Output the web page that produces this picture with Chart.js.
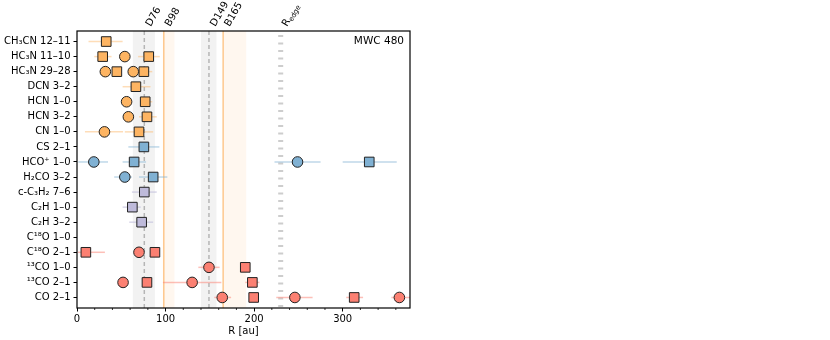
<!DOCTYPE html>
<html lang="en">
<head>
  <meta charset="UTF-8" />
  <title>MWC 480 emission radii</title>
  <script src="https://cdn.jsdelivr.net/npm/chart.js"></script>
  <style>
    * { margin: 0; padding: 0; box-sizing: border-box; }
    body { background: #fff; width: 830px; height: 340px; overflow: hidden; }
    #wrap { position: relative; width: 830px; height: 340px; }
  </style>
</head>
<body>
  <div id="wrap"><canvas id="chart"></canvas></div>

  <script>
    // Lines, top to bottom
    const rowLabels = ['CH₃CN 12–11', 'HC₃N 11–10', 'HC₃N 29–28', 'DCN 3–2', 'HCN 1–0', 'HCN 3–2',
      'CN 1–0', 'CS 2–1', 'HCO⁺ 1–0', 'H₂CO 3–2', 'c-C₃H₂ 7–6', 'C₂H 1–0', 'C₂H 3–2',
      'C¹⁸O 1–0', 'C¹⁸O 2–1', '¹³CO 1–0', '¹³CO 2–1', 'CO 2–1'];
    // 0 = N-bearing, 1 = S/O-bearing, 2 = hydrocarbons, 3 = CO isotopologues
    const rowGroup = [0, 0, 0, 0, 0, 0, 0, 1, 1, 1, 2, 2, 2, 3, 3, 3, 3, 3];

    // circles (au), with error bar ends
    const circRow = [1, 2, 2, 4, 5, 6, 8, 8, 9, 14, 15, 16, 16, 17, 17, 17];
    const circR   = [54, 32, 63.5, 56, 58, 31, 19, 249, 54, 70, 149, 52, 130, 164, 246, 364];
    const circLo  = [null, null, null, null, null, 9, 1.5, 223, 42, null, 137, null, 97, 155, 225, 355];
    const circHi  = [null, null, null, null, null, 52, 35, 275, 62, null, 161, null, 163, 174, 266, 400];

    // squares (au), with error bar ends
    const sqRow = [0, 1, 1, 2, 2, 3, 4, 5, 6, 7, 8, 8, 9, 10, 11, 12, 14, 14, 15, 16, 16, 17, 17];
    const sqR   = [33, 29, 81, 45, 75.5, 66.5, 77, 79, 70, 75.5, 64.5, 330, 86, 76, 62.5, 73, 10, 88, 190, 79, 198, 199.5, 313];
    const sqLo  = [13, 19.5, 69, null, 66, 51.5, 71, 70, 54, 58, 51.5, 300, 70, 62, 51.5, 59, 1, null, null, null, 190, null, 304];
    const sqHi  = [51.5, 39, 93.5, null, 85, 83, 85, 90, 86, 93, 78, 361, 102, 90, 72, 86, 31.5, null, null, null, 206, null, 323];

    // dust gaps (D) and rings (B)
    const gapR  = [76, 149];
    const gapLo = [63, 140];
    const gapHi = [88, 157.5];
    const ringR  = [98, 165];
    const ringLo = [97, 165];
    const ringHi = [110, 191];
    const rEdge = 230;

    const xMajor = [0, 100, 200, 300];
    const xMinorStep = 20;
    const xMax = 376;

    const groupFill = ['#fdb462', '#80b1d3', '#bebada', '#fb8072'];
    const groupErr = ['rgba(253,180,98,0.45)', 'rgba(128,177,211,0.5)', 'rgba(190,186,218,0.6)', 'rgba(251,128,114,0.5)'];

    Chart.defaults.font.family = "'DejaVu Sans', sans-serif";
    Chart.defaults.color = '#000';

    const datasets = [];
    groupFill.forEach((col, g) => {
      datasets.push({
        data: circRow.map((row, i) => ({ x: circR[i], y: row })).filter(p => rowGroup[p.y] === g),
        pointStyle: 'circle',
        pointRadius: 5.3,
        pointBackgroundColor: col,
        pointBorderColor: '#222',
        pointBorderWidth: 1
      });
      datasets.push({
        data: sqRow.map((row, i) => ({ x: sqR[i], y: row })).filter(p => rowGroup[p.y] === g),
        pointStyle: 'rect',
        pointRadius: 6.8,
        pointBackgroundColor: col,
        pointBorderColor: '#222',
        pointBorderWidth: 1
      });
    });

    function drawErr(ctx, x, y, rows, lo, hi) {
      rows.forEach((row, i) => {
        if (lo[i] == null) return;
        const py = y.getPixelForValue(row);
        ctx.strokeStyle = groupErr[rowGroup[row]];
        ctx.beginPath();
        ctx.moveTo(x.getPixelForValue(lo[i]), py);
        ctx.lineTo(x.getPixelForValue(hi[i]), py);
        ctx.stroke();
      });
    }

    const decor = {
      id: 'decor',
      beforeDatasetsDraw(chart) {
        const { ctx, chartArea: a, scales: { x, y } } = chart;
        ctx.save();
        ctx.beginPath();
        ctx.rect(a.left, a.top, a.right - a.left, a.bottom - a.top);
        ctx.clip();

        // bands
        ctx.fillStyle = 'rgba(0,0,0,0.05)';
        gapLo.forEach((lo, i) => {
          const x0 = x.getPixelForValue(lo), x1 = x.getPixelForValue(gapHi[i]);
          ctx.fillRect(x0, a.top, x1 - x0, a.bottom - a.top);
        });
        ctx.fillStyle = 'rgba(253,180,98,0.1)';
        ringLo.forEach((lo, i) => {
          const x0 = x.getPixelForValue(lo), x1 = x.getPixelForValue(ringHi[i]);
          ctx.fillRect(x0, a.top, x1 - x0, a.bottom - a.top);
        });

        // gap centres
        ctx.lineWidth = 1.5;
        ctx.strokeStyle = '#b5b5b5';
        ctx.setLineDash([4, 3]);
        gapR.forEach(r => {
          const px = x.getPixelForValue(r);
          ctx.beginPath(); ctx.moveTo(px, a.top); ctx.lineTo(px, a.bottom); ctx.stroke();
        });
        // ring centres
        ctx.setLineDash([]);
        ctx.strokeStyle = 'rgba(253,180,98,0.7)';
        ringR.forEach(r => {
          const px = x.getPixelForValue(r);
          ctx.beginPath(); ctx.moveTo(px, a.top); ctx.lineTo(px, a.bottom); ctx.stroke();
        });
        // gas disk edge
        ctx.lineWidth = 5;
        ctx.strokeStyle = '#cdcdcd';
        ctx.setLineDash([2, 5.5]);
        const pe = x.getPixelForValue(rEdge);
        ctx.beginPath(); ctx.moveTo(pe, a.top + 4); ctx.lineTo(pe, a.bottom); ctx.stroke();
        ctx.setLineDash([]);

        // error bars
        ctx.lineWidth = 1.5;
        drawErr(ctx, x, y, circRow, circLo, circHi);
        drawErr(ctx, x, y, sqRow, sqLo, sqHi);
        ctx.restore();
      },
      afterDraw(chart) {
        const { ctx, chartArea: a, scales: { x } } = chart;
        ctx.save();
        // frame
        ctx.strokeStyle = '#000';
        ctx.lineWidth = 1.2;
        ctx.strokeRect(a.left, a.top, a.right - a.left, a.bottom - a.top);

        // minor ticks
        ctx.lineWidth = 0.8;
        for (let v = 0; v <= xMax; v += xMinorStep) {
          if (v % 100 === 0) continue;
          const px = x.getPixelForValue(v);
          ctx.beginPath(); ctx.moveTo(px, a.bottom); ctx.lineTo(px, a.bottom + 2); ctx.stroke();
        }

        // top labels
        const fs = 10;
        const lift = 0.866 * 0.73 * fs;
        const label = (r, text, sub) => {
          ctx.save();
          ctx.translate(x.getPixelForValue(r) + lift, 27);
          ctx.rotate(-Math.PI / 3);
          ctx.font = fs + "px 'DejaVu Sans'";
          ctx.fillStyle = '#000';
          ctx.textAlign = 'left';
          ctx.textBaseline = 'alphabetic';
          ctx.fillText(text, 0, 0);
          if (sub) {
            const w = ctx.measureText(text).width;
            ctx.font = (fs * 0.7) + "px 'DejaVu Sans'";
            ctx.fillText(sub, w, 2);
          }
          ctx.restore();
        };
        gapR.forEach(r => label(r, 'D' + r));
        ringR.forEach(r => label(r, 'B' + r));
        label(rEdge, 'R', 'edge');

        // source name
        ctx.font = "10.5px 'DejaVu Sans'";
        ctx.fillStyle = '#000';
        ctx.textAlign = 'right';
        ctx.textBaseline = 'middle';
        ctx.fillText('MWC 480', a.right - 6, a.top + 10);
        ctx.restore();
      }
    };

    new Chart(document.getElementById('chart'), {
      type: 'scatter',
      data: { datasets },
      options: {
        responsive: true,
        maintainAspectRatio: false,
        animation: false,
        events: [],
        layout: { padding: { top: 31, right: 420, left: 0, bottom: 0 } },
        scales: {
          x: {
            type: 'linear',
            min: 0,
            max: xMax,
            afterBuildTicks: s => { s.ticks = xMajor.map(v => ({ value: v })); },
            afterFit: s => { s.height = 32; },
            border: { display: false },
            grid: { drawOnChartArea: false, tickLength: 3.5, tickColor: '#000', tickWidth: 1 },
            ticks: { font: { size: 10 }, padding: 2, maxRotation: 0 },
            title: { display: true, text: 'R [au]', font: { size: 10 }, padding: { top: 0, bottom: 3 } }
          },
          y: {
            type: 'linear',
            reverse: true,
            min: -0.7,
            max: 17.7,
            afterBuildTicks: s => { s.ticks = rowLabels.map((_, i) => ({ value: i })); },
            afterFit: s => { s.width = 77; },
            border: { display: false },
            grid: { drawOnChartArea: false, tickLength: 3.5, tickColor: '#000', tickWidth: 1 },
            ticks: { font: { size: 10 }, padding: 3, autoSkip: false, callback: v => rowLabels[v] }
          }
        },
        plugins: {
          legend: { display: false },
          tooltip: { enabled: false }
        }
      },
      plugins: [decor]
    });
  </script>
</body>
</html>
